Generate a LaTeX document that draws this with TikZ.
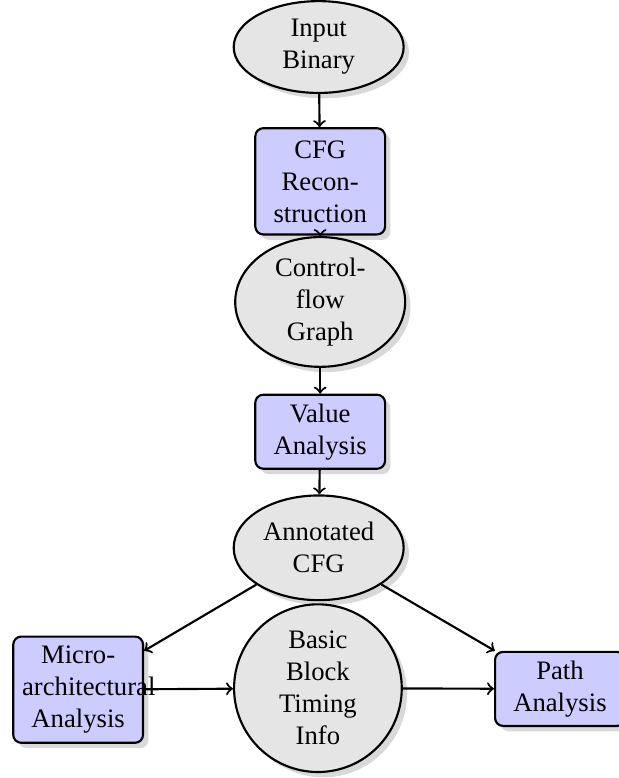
\documentclass[tikz,border=0pt]{standalone}
\usepackage{fontspec}
\setmainfont{Liberation Serif}
\usepackage{tikz}
\usetikzlibrary{shapes.geometric}
\usetikzlibrary{shadows}

\begin{document}
\begin{tikzpicture}[
  data/.style={ellipse, draw, thick, fill=gray!20, align=center, inner sep=0pt, minimum width=2.24cm,
    drop shadow={shadow xshift=2pt, shadow yshift=-2pt, opacity=0.3}},
  stage/.style={rectangle, rounded corners=3pt, draw, thick, fill=blue!20, text width=42pt, align=center,
    drop shadow={shadow xshift=2pt, shadow yshift=-2pt, opacity=0.3}},
  flow/.style={->, thick}]
  \useasboundingbox (0,0) rectangle (8.158,-10.254);
  % chaine principale
  \node [data, minimum height=1.21cm] (input) at (4.2,-0.62) {Input\\Binary};
  \node [stage, minimum height=1.4cm] (cfgrec) at (4.22,-2.39) {CFG\\Recon-\\struction};
  \node [data, minimum height=1.71cm] (cfg) at (4.22,-3.98) {Control-\\flow\\Graph};
  \node [stage] (value) at (4.22,-5.69) {Value\\Analysis};
  \node [data, minimum height=1.38cm] (annot) at (4.2,-7.22) {Annotated\\CFG};
  % ligne du bas
  \node [stage, minimum height=1.4cm] (micro) at (1.03,-9.09) {Micro-\\architectural\\Analysis};
  \node [data, circle, minimum size=2.21cm] (timing) at (4.19,-9.07) {Basic\\Block\\Timing\\Info};
  \node [stage] (path) at (7.38,-9.08) {Path\\Analysis};
  % fleches
  \draw [flow] (input) -- (cfgrec);
  \draw [flow] (cfgrec) -- (cfg);
  \draw [flow] (cfg) -- (value);
  \draw [flow] (value) -- (annot);
  \draw [flow] (annot) -- (micro);
  \draw [flow] (annot) -- (path);
  \draw [flow] (micro) -- (timing);
  \draw [flow] (timing) -- (path);
\end{tikzpicture}
\end{document}
